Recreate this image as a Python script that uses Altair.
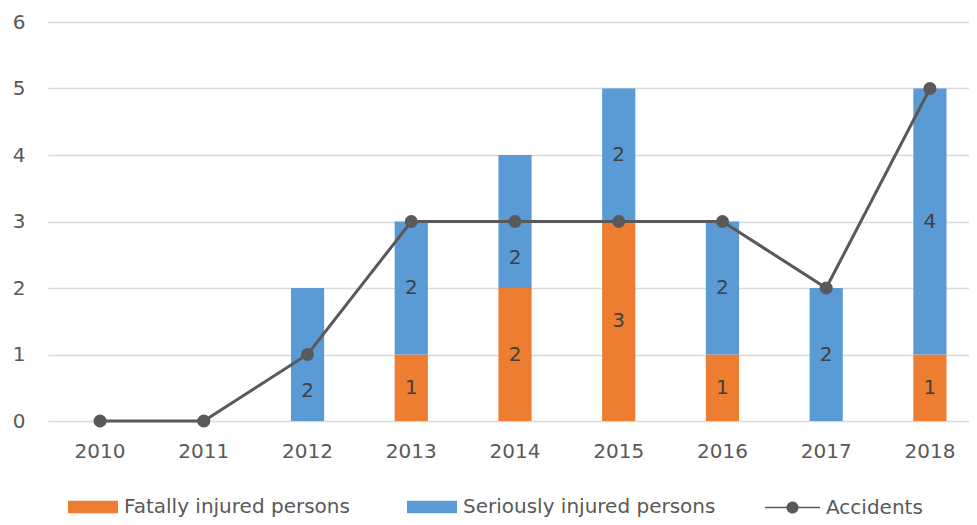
import altair as alt
import pandas as pd

years = ["2010", "2011", "2012", "2013", "2014", "2015", "2016", "2017", "2018"]
fatal = [0, 0, 0, 1, 2, 3, 1, 0, 1]
serious = [0, 0, 2, 2, 2, 2, 2, 2, 4]
accidents = [0, 0, 1, 3, 3, 3, 3, 2, 5]
series_names = ["Fatally injured persons", "Seriously injured persons"]
series_colors = ["#ED7D31", "#5B9BD5"]
line_name = "Accidents"
line_color = "#595959"

FONT = "DejaVu Sans"

rows = []
for i, yr in enumerate(years):
    base = 0
    for k, (name, vals) in enumerate(zip(series_names, [fatal, serious])):
        v = vals[i]
        center = base + v / 2
        if abs(center - accidents[i]) < 0.25:
            center -= 0.55
        rows.append(dict(year=yr, series=name, value=v, y0=base, y1=base + v,
                         label_y=center, label=str(v) if v else ""))
        base += v
bars_df = pd.DataFrame(rows)
labels_df = bars_df[bars_df["value"] > 0]
line_df = pd.DataFrame({"year": years, "accidents": accidents, "series": line_name})

x_enc = alt.X("year:N", sort=years,
              scale=alt.Scale(paddingInner=0.68, paddingOuter=0.342, range=[0, 934]),
              axis=alt.Axis(title=None, labelAngle=0, domain=False, ticks=False,
                            labelPadding=20, labelFontSize=20, labelColor="#595959",
                            labelFont=FONT))
y_axis = alt.Axis(title=None, values=[0, 1, 2, 3, 4, 5, 6], domain=False, ticks=False,
                  labelPadding=23, labelFontSize=20, labelColor="#595959", labelFont=FONT,
                  gridColor="#d9d9d9", gridWidth=1.5)
y_scale = alt.Scale(domain=[0, 6], nice=False)

rect_path = "M-1,-0.25H1V0.25H-1Z"
line_path = ("M-1,-0.03H1V0.03H-1Z"
             "M0.22,0A0.22,0.22,0,1,1,-0.22,0A0.22,0.22,0,1,1,0.22,0Z")

bars = alt.Chart(bars_df).mark_bar(opacity=1).encode(
    x=x_enc,
    y=alt.Y("y0:Q", scale=y_scale, axis=y_axis),
    y2="y1:Q",
    color=alt.Color("series:N",
                    scale=alt.Scale(domain=series_names, range=series_colors),
                    legend=alt.Legend(title=None, orient="none", legendX=20, legendY=460,
                                      direction="horizontal", symbolType=rect_path,
                                      symbolSize=2500, symbolStrokeWidth=0,
                                      symbolOpacity=1, labelFontSize=20,
                                      labelColor="#595959", labelFont=FONT,
                                      labelLimit=500, columnPadding=57,
                                      labelOffset=6, padding=0)),
)

texts = alt.Chart(labels_df).mark_text(fontSize=20, color="#404040", font=FONT,
                                       baseline="middle").encode(
    x=x_enc,
    y=alt.Y("label_y:Q", scale=y_scale, axis=y_axis),
    text="label:N",
)

line = alt.Chart(line_df).mark_line(color=line_color, strokeWidth=3).encode(
    x=x_enc,
    y=alt.Y("accidents:Q", scale=y_scale, axis=y_axis),
)

points = alt.Chart(line_df).mark_circle(size=170, opacity=1).encode(
    x=x_enc,
    y=alt.Y("accidents:Q", scale=y_scale, axis=y_axis),
    color=alt.Color("series:N",
                    scale=alt.Scale(domain=[line_name], range=[line_color]),
                    legend=alt.Legend(title=None, orient="none", legendX=717, legendY=458,
                                      direction="horizontal", symbolType=line_path,
                                      symbolSize=3025, symbolStrokeWidth=0,
                                      symbolOpacity=1, labelFontSize=20,
                                      labelColor="#595959", labelFont=FONT,
                                      labelLimit=500, labelOffset=6, padding=0)),
)

chart = alt.layer(bars, texts, line, points).resolve_scale(
    color="independent"
).properties(
    width=921, height=399,
    padding={"left": 40, "top": 14, "right": 0, "bottom": 96},
    autosize=alt.AutoSizeParams(type="none"),
).configure_view(stroke=None)

chart.save("out.html", embed_options={"renderer": "svg", "actions": False})
